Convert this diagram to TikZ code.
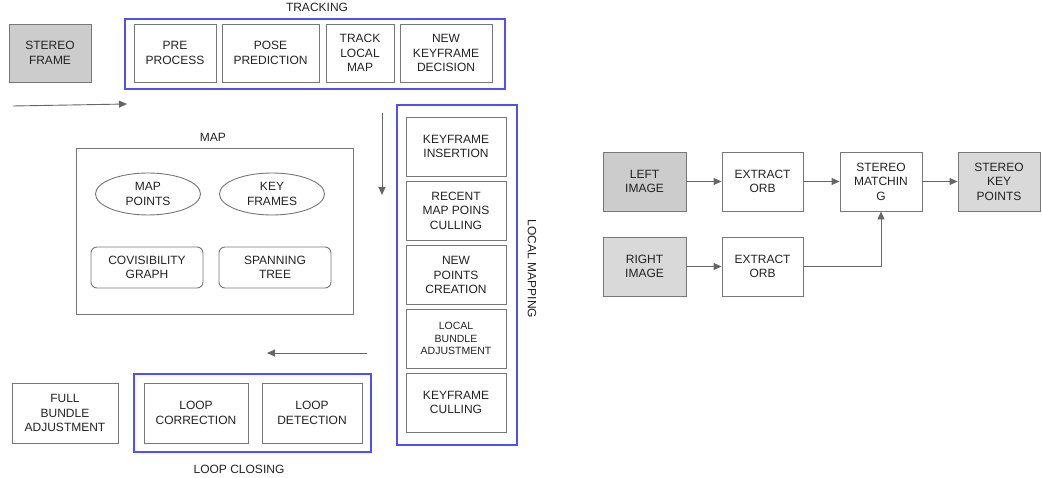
\documentclass[tikz,border=0pt]{standalone}
\usepackage{fontspec}
\setmainfont{Liberation Sans}
\usetikzlibrary{arrows.meta,shapes.geometric}

\definecolor{edge}{HTML}{777777}
\definecolor{arrowgray}{HTML}{666666}
\definecolor{groupblue}{HTML}{5050F5}
\definecolor{ink}{HTML}{222222}
\definecolor{darkfill}{HTML}{CCCCCC}
\definecolor{lightfill}{HTML}{D9D9D9}

\tikzset{
  every node/.style={text=ink, font=\fontsize{12}{14.5}\selectfont, align=center, inner sep=0pt},
  blk/.style={draw=edge, line width=0.9pt, rectangle},
  roundblk/.style={blk, rounded corners=6pt},
  oval/.style={draw=edge, line width=0.9pt, ellipse},
  group/.style={draw=groupblue, line width=1.1pt, rectangle},
  grouplabel/.style={font=\fontsize{12}{14.5}\selectfont},
  flow/.style={draw=arrowgray, line width=0.9pt, -{Triangle[length=8pt,width=7pt]}},
  small/.style={font=\fontsize{10.5}{12.7}\selectfont}
}

\begin{document}
\begin{tikzpicture}[x=1pt,y=-1pt]
\useasboundingbox (0,0) rectangle (1042,478);

% ---- input frame and tracking thread ----
\node[blk, fill=darkfill, minimum width=82pt, minimum height=58pt] (sf) at (50,53) {STEREO\\FRAME};
\node[group, minimum width=380pt, minimum height=70pt] (tracking) at (315,54) {};
\node[grouplabel] (trackinglbl) at (317,7) {TRACKING};
\node[blk, minimum width=82pt, minimum height=58pt] (pre) at (175,53) {PRE\\PROCESS};
\node[blk, minimum width=97pt, minimum height=58pt] (pose) at (270.5,53) {POSE\\PREDICTION};
\node[blk, minimum width=68pt, minimum height=58pt] (tlm) at (360,53) {TRACK\\LOCAL\\MAP};
\node[blk, minimum width=92pt, minimum height=58pt] (nkd) at (446,53) {NEW\\KEYFRAME\\DECISION};

% ---- map ----
\node[blk, minimum width=277pt, minimum height=166pt] (map) at (214.5,231) {};
\node[grouplabel] (maplbl) at (213,137) {MAP};
\node[oval, minimum width=105pt, minimum height=42pt] (mp) at (148,194) {MAP\\POINTS};
\node[oval, minimum width=105pt, minimum height=42pt] (kf) at (272,194) {KEY\\FRAMES};
\node[roundblk, minimum width=112pt, minimum height=41pt] (cov) at (147,267.5) {COVISIBILITY\\GRAPH};
\node[roundblk, minimum width=112pt, minimum height=41pt] (span) at (275,267.5) {SPANNING\\TREE};

% ---- local mapping thread ----
\node[group, minimum width=120pt, minimum height=340pt] (lmap) at (457,275) {};
\node[grouplabel, rotate=-90] (lmaplbl) at (532,269) {LOCAL MAPPING};
\node[blk, minimum width=100pt, minimum height=59pt] (ki) at (456,146.5) {KEYFRAME\\INSERTION};
\node[blk, minimum width=100pt, minimum height=59pt] (rmp) at (456,210.5) {RECENT\\MAP POINS\\CULLING};
\node[blk, minimum width=100pt, minimum height=59pt] (npc) at (456,275) {NEW\\POINTS\\CREATION};
\node[blk, small, minimum width=100pt, minimum height=59pt] (lba) at (456,338.5) {LOCAL\\BUNDLE\\ADJUSTMENT};
\node[blk, minimum width=100pt, minimum height=59pt] (kfc) at (456,402.5) {KEYFRAME\\CULLING};

% ---- loop closing thread ----
\node[blk, minimum width=106pt, minimum height=60pt] (fba) at (65,413) {FULL\\BUNDLE\\ADJUSTMENT};
\node[group, minimum width=237pt, minimum height=78pt] (lclose) at (252.5,413) {};
\node[grouplabel] (lcloselbl) at (239,469) {LOOP CLOSING};
\node[blk, minimum width=104pt, minimum height=60pt] (lcor) at (196,413) {LOOP\\CORRECTION};
\node[blk, minimum width=100pt, minimum height=60pt] (ldet) at (312,413) {LOOP\\DETECTION};

% ---- flow between threads ----
\coordinate (a1s) at (13,106);
\coordinate (a1e) at (127,104);
\coordinate (a2s) at (382,113);
\coordinate (a2e) at (382,195);
\coordinate (a3s) at (367,353);
\coordinate (a3e) at (267,353);
\draw[flow] (a1s) -- (a1e);
\draw[flow] (a2s) -- (a2e);
\draw[flow] (a3s) -- (a3e);

% ---- stereo keypoint extraction ----
\node[blk, fill=darkfill, minimum width=83pt, minimum height=59pt] (li) at (644.5,181.5) {LEFT\\IMAGE};
\node[blk, minimum width=81pt, minimum height=59pt] (eo1) at (762.5,181.5) {EXTRACT\\ORB};
\node[blk, minimum width=82pt, minimum height=59pt] (sm) at (881,181.5) {STEREO\\MATCHIN\\G};
\node[blk, fill=lightfill, minimum width=82pt, minimum height=59pt] (skp) at (999,181.5) {STEREO\\KEY\\POINTS};
\node[blk, fill=lightfill, minimum width=83pt, minimum height=59pt] (ri) at (644.5,266.5) {RIGHT\\IMAGE};
\node[blk, minimum width=81pt, minimum height=59pt] (eo2) at (762.5,266.5) {EXTRACT\\ORB};

\draw[flow] (li) -- (eo1);
\draw[flow] (eo1) -- (sm);
\draw[flow] (sm) -- (skp);
\draw[flow] (ri) -- (eo2);
\draw[flow] (eo2.east) -| (sm.south);
\end{tikzpicture}
\end{document}
